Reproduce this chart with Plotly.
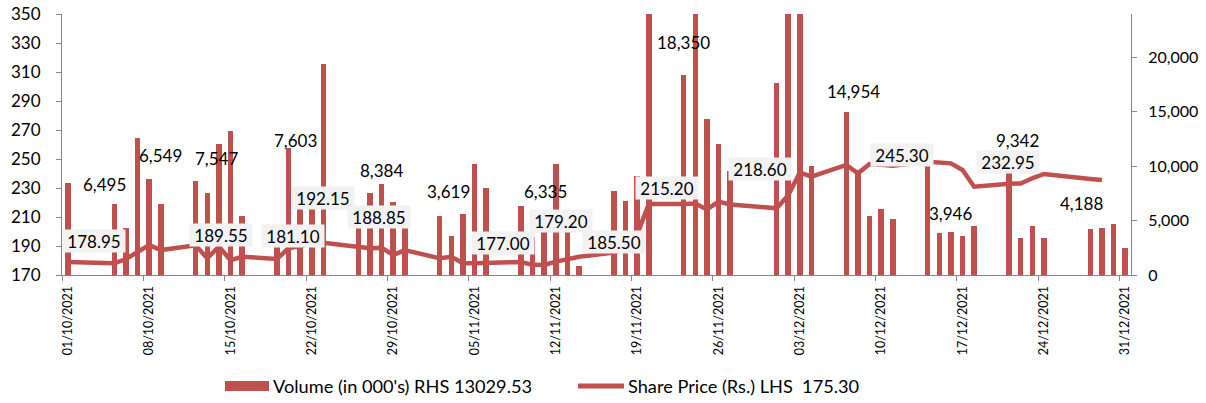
import pandas as pd
import plotly.graph_objects as go

# ---------------- data ----------------
dates = [
    "2021-10-01",
    "2021-10-05", "2021-10-06", "2021-10-07", "2021-10-08", "2021-10-09",
    "2021-10-12", "2021-10-13", "2021-10-14", "2021-10-15", "2021-10-16",
    "2021-10-19", "2021-10-20", "2021-10-21", "2021-10-22", "2021-10-23",
    "2021-10-26", "2021-10-27", "2021-10-28", "2021-10-29", "2021-10-30",
    "2021-11-02", "2021-11-03", "2021-11-04", "2021-11-05", "2021-11-06",
    "2021-11-09", "2021-11-10", "2021-11-11", "2021-11-12", "2021-11-13", "2021-11-14",
    "2021-11-17", "2021-11-18", "2021-11-19", "2021-11-20",
    "2021-11-23", "2021-11-24", "2021-11-25", "2021-11-26", "2021-11-27",
    "2021-12-01", "2021-12-02", "2021-12-03", "2021-12-04",
    "2021-12-07", "2021-12-08", "2021-12-09", "2021-12-10", "2021-12-11",
    "2021-12-14", "2021-12-15", "2021-12-16", "2021-12-17", "2021-12-18",
    "2021-12-21", "2021-12-22", "2021-12-23", "2021-12-24",
    "2021-12-28", "2021-12-29", "2021-12-30", "2021-12-31",
]

volume = [
    8468,
    6495, 4340, 12597, 8777, 6549,
    8624, 7547, 11988, 13211, 5413,
    4000, 11682, 7603, 6800, 19330,
    5000, 7553, 8384, 6670, 4500,
    5413, 3619, 5566, 10152, 8012,
    6335, 3500, 5000, 10152, 5000, 826,
    7706, 6789, 9082, 95000,
    18350, 55000, 14284, 11988, 9500,
    17645, 130000, 92000, 10000,
    14954, 9385, 5413, 6027, 5110,
    11000, 3881, 3946, 3578, 4495,
    9342, 3425, 4495, 3425,
    4188, 4340, 4650, 2507,
]

price = [
    178.95,
    178.10, 181.00, 186.00, 190.70, 187.20,
    190.50, 181.50, 189.55, 180.30, 182.60,
    181.10, 188.50, 190.00, 191.50, 192.15,
    189.50, 188.50, 188.85, 183.80, 187.20,
    181.50, 182.60, 178.10, 178.10, 178.30,
    179.00, 177.00, 176.90, 179.20, 181.00, 182.60,
    185.50, 188.00, 198.00, 219.00,
    219.00, 219.30, 215.20, 220.60, 218.60,
    216.00, 225.00, 240.60, 237.80,
    245.90, 240.10, 246.50, 246.00, 245.30,
    248.10, 247.80, 247.00, 242.40, 230.90,
    232.95, 233.10, 236.70, 239.70,
    236.20, 235.50, None, None,
]

tick_dates = ["2021-10-01", "2021-10-08", "2021-10-15", "2021-10-22", "2021-10-29",
              "2021-11-05", "2021-11-12", "2021-11-19", "2021-11-26", "2021-12-03",
              "2021-12-10", "2021-12-17", "2021-12-24", "2021-12-31"]
tick_text = ["01/10/2021", "08/10/2021", "15/10/2021", "22/10/2021", "29/10/2021",
             "05/11/2021", "12/11/2021", "19/11/2021", "26/11/2021", "03/12/2021",
             "10/12/2021", "17/12/2021", "24/12/2021", "31/12/2021"]

# labelled points: (date, x-shift px, y-shift px)
vol_labels = [("2021-10-05", -10, 20), ("2021-10-09", 0, 48), ("2021-10-13", 9, 34),
              ("2021-10-21", -5, 52), ("2021-10-28", 0, 13), ("2021-11-03", -3, 44),
              ("2021-11-09", 25, 14), ("2021-11-23", 0, 33), ("2021-12-07", 7, 21),
              ("2021-12-16", 0, 19), ("2021-12-21", 9, 33), ("2021-12-28", -9, 26)]
price_labels = [("2021-10-01", 26, 21), ("2021-10-14", 2, 12), ("2021-10-19", 16, 23),
                ("2021-10-23", 0, 45), ("2021-10-28", -3, 31), ("2021-11-10", -30, 22),
                ("2021-11-12", 5, 41), ("2021-11-17", 0, 11), ("2021-11-25", -40, 21),
                ("2021-11-27", 30, 36), ("2021-12-11", 9, 11), ("2021-12-21", -1, 22)]

vol_legend = "Volume (in 000's) RHS 13029.53"
price_legend = "Share Price (Rs.) LHS  175.30"

# ---------------- styling ----------------
RED = "#C0504D"
GRAY = "#868686"
FONT = "Lato, 'Liberation Sans Narrow', sans-serif"
DAY_MS = 86400000

x_mid = pd.to_datetime(dates) + pd.Timedelta(hours=12)

fig = go.Figure()
fig.add_trace(go.Bar(
    x=x_mid, y=volume, yaxis="y", name=vol_legend,
    marker=dict(color=RED, line=dict(width=0)), width=0.47 * DAY_MS,
    showlegend=False,
))
fig.add_trace(go.Scatter(
    x=x_mid, y=price, yaxis="y2", name=price_legend, mode="lines",
    line=dict(color=RED, width=4.5), showlegend=False,
))

idx = {d: i for i, d in enumerate(dates)}
ann = []
for d, dx, dy in vol_labels:
    i = idx[d]
    ann.append(dict(x=x_mid[i], y=volume[i], xref="x", yref="y",
                    text=f"{volume[i]:,}", showarrow=False,
                    xshift=dx, yshift=dy, xanchor="center", yanchor="middle",
                    font=dict(family=FONT, size=17, color="#000000")))
for d, dx, dy in price_labels:
    i = idx[d]
    ann.append(dict(x=x_mid[i], y=price[i], xref="x", yref="y2",
                    text=f"{price[i]:.2f}", showarrow=False,
                    xshift=dx, yshift=dy, xanchor="center", yanchor="middle",
                    bgcolor="#F2F2F2", width=58, height=18, borderpad=2,
                    font=dict(family=FONT, size=17, color="#000000")))

# custom legend (paper coords relative to plot area)
def px_x(p):
    return (p - 62) / 1069.0

def px_y(p):
    return (275 - p) / 261.0

LEG_Y = 386
shapes = [
    dict(type="rect", xref="paper", yref="paper",
         x0=px_x(225), x1=px_x(269), y0=px_y(LEG_Y + 5), y1=px_y(LEG_Y - 5),
         fillcolor=RED, line=dict(width=0)),
    dict(type="line", xref="paper", yref="paper",
         x0=px_x(578), x1=px_x(624), y0=px_y(LEG_Y), y1=px_y(LEG_Y),
         line=dict(color=RED, width=5)),
]
ann.append(dict(x=px_x(271), y=px_y(LEG_Y), xref="paper", yref="paper",
                text=vol_legend, showarrow=False, xanchor="left", yanchor="middle",
                font=dict(family=FONT, size=18.2, color="#000000")))
ann.append(dict(x=px_x(626), y=px_y(LEG_Y), xref="paper", yref="paper",
                text=price_legend, showarrow=False, xanchor="left", yanchor="middle",
                font=dict(family=FONT, size=18.2, color="#000000")))

fig.update_layout(
    width=1206, height=403,
    margin=dict(l=62, r=75, t=14, b=128, pad=0, autoexpand=False),
    paper_bgcolor="white", plot_bgcolor="white",
    bargap=0,
    font=dict(family=FONT, size=16, color="#000000"),
    xaxis=dict(
        type="date", range=["2021-10-01", "2022-01-01"], automargin=False,
        tickvals=pd.to_datetime(tick_dates), ticktext=tick_text,
        tickangle=-90, ticks="outside", ticklen=5, tickcolor=GRAY,
        showline=True, linecolor=GRAY, linewidth=1,
        showgrid=False, zeroline=False, ticklabelshift=6,
        tickfont=dict(family=FONT, size=12.5, color="#000000"),
    ),
    yaxis=dict(
        side="right", range=[0, 23950], automargin=False,
        tickvals=[0, 5000, 10000, 15000, 20000], tickformat=",",
        ticks="outside", ticklen=5, tickcolor=GRAY,
        showline=True, linecolor=GRAY, linewidth=1,
        showgrid=False, zeroline=False, ticklabelstandoff=8,
        tickfont=dict(family=FONT, size=16, color="#000000"),
    ),
    yaxis2=dict(
        overlaying="y", side="left", range=[170, 350], dtick=20, tick0=170,
        automargin=False,
        ticks="outside", ticklen=5, tickcolor=GRAY,
        showline=True, linecolor=GRAY, linewidth=1,
        showgrid=False, zeroline=False, ticklabelstandoff=12,
        tickfont=dict(family=FONT, size=17, color="#000000"),
    ),
    annotations=ann, shapes=shapes,
)

fig.write_html("out.html",
               config={"displayModeBar": False},
               post_script="document.body.style.margin='0px';"
                           "document.documentElement.style.margin='0px';")
